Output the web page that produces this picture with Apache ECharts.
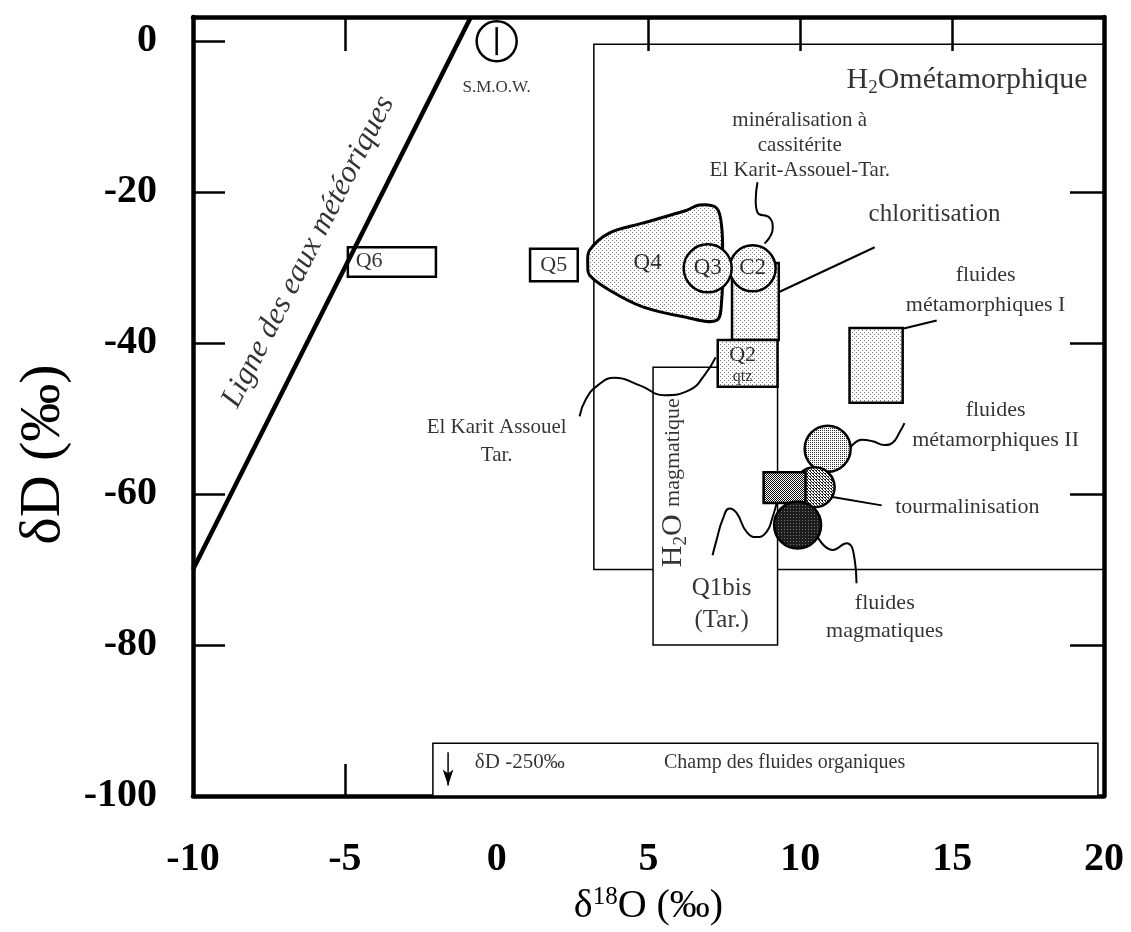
<!doctype html>
<html lang="fr">
<head>
    <meta charset="UTF-8">
    <title>dD - d18O</title>
    <style>
        html, body { margin: 0; padding: 0; background: #fff; }
        #main { width: 1131px; height: 932px; }
    </style>
    <script src="https://cdn.jsdelivr.net/npm/echarts@6.0.0/dist/echarts.min.js"></script>
</head>
<body>
<div id="main"></div>
<script>
    // axes
    var xTickLabels = [-10, -5, 0, 5, 10, 15, 20];
    var yTickLabels = [0, -20, -40, -60, -80, -100];
    var xTopTicks = [-5, 5, 10, 15];
    var xBottomTicks = [-5, 0, 5, 10, 15];
    var yLeftTicks = [0, -20, -40, -60, -80];
    var yRightTicks = [-20, -40, -60, -80];

    // meteoric water line and SMOW
    var meteoricLine = [[-10, -70], [-0.85, 3.2]];
    var smow = [0, 0];

    // fields and boxes: [x1, y1, x2, y2]
    var metamorphicField = [3.2, -0.4, 20, -70];
    var magmaticField = [5.15, -43.2, 9.25, -80];
    var organicField = [-2.1, -93, 19.8, -100];
    var q6Box = [-4.9, -27.3, -2.0, -31.2];
    var q5Box = [1.1, -27.5, 2.67, -31.8];
    var chloritBox = [7.75, -29.4, 9.29, -39.6];
    var q2Box = [7.28, -39.6, 9.25, -45.8];
    var metIBox = [11.62, -38.0, 13.37, -47.9];
    var tourmBox = [8.79, -57.1, 10.17, -61.2];

    // Q4 field outline
    var q4Outline = [
        [3.00, -29.7], [3.06, -27.7], [3.72, -25.4], [4.81, -24.1], [6.26, -22.4],
        [6.68, -21.7], [7.24, -22.1], [7.41, -24.6], [7.44, -29.0], [7.41, -34.3],
        [7.24, -37.0], [6.26, -36.6], [4.81, -35.2], [3.72, -33.0], [3.06, -31.0]
    ];

    // round fields (centres)
    var q3 = [6.95, -30.1];
    var c2 = [8.43, -30.1];
    var metII = [10.9, -54.0];
    var tourmDot = [10.47, -59.1];
    var magmaDot = [9.91, -64.1];

    // leader lines
    var cassLeader = [[8.59, -18.7], [8.53, -21.1], [8.59, -22.7], [8.99, -23.4], [9.09, -24.8], [8.82, -26.8]];
    var chloritLeader = [[9.32, -33.2], [12.45, -27.3]];
    var elKaritLeader = [[2.73, -49.7], [2.93, -47.5], [3.33, -45.6], [3.89, -44.6], [4.71, -45.6],
        [5.53, -46.9], [6.36, -46.2], [6.85, -44.2], [7.21, -41.9]];
    var metILeader = [[13.37, -38.1], [14.49, -37.0]];
    var metIILeader = [[11.66, -53.8], [12.02, -52.8], [12.38, -53.0], [12.78, -53.5], [13.04, -53.2],
        [13.27, -51.8], [13.43, -50.6]];
    var tourmLeader = [[11.06, -60.4], [12.68, -61.5]];
    var magmaLeader = [[10.57, -65.7], [11.06, -67.4], [11.52, -66.5], [11.79, -68.7], [11.85, -71.8]];
    var q1bisLeader = [[7.11, -68.1], [7.24, -66.1], [7.44, -63.4], [7.67, -61.9], [7.90, -62.5],
        [8.23, -65.0], [8.56, -65.7], [8.89, -65.0], [9.09, -63.0], [9.22, -61.2]];
    var organicArrow = [[-1.6, -94.2], [-1.6, -98.6]];

    // label anchors
    var smowLabelAt = [0, -6.2];
    var meteoricLabelAt = [-6.2, -27.9];
    var metamorphicLabelAt = [19.46, -5.2];
    var cassLabelAt = [9.98, -13.8];
    var q6LabelAt = [-4.2, -29.2];
    var q5LabelAt = [1.88, -29.7];
    var q4LabelAt = [4.97, -29.4];
    var q3LabelAt = q3;
    var c2LabelAt = c2;
    var q2LabelAt = [8.1, -41.6];
    var qtzLabelAt = [8.1, -44.4];
    var chloritLabelAt = [14.42, -23.0];
    var elKaritLabelAt = [0, -53];
    var metILabelAt = [16.1, -33.0];
    var metIILabelAt = [16.43, -50.9];
    var tourmLabelAt = [15.5, -61.7];
    var magmaLabelAt = [12.78, -76.3];
    var q1bisLabelAt = [7.41, -74.6];
    var magmaticLabelAt = [5.8, -58.5];
    var organicDLabelAt = [0.76, -95.6];
    var organicLabelAt = [9.48, -95.6];

    var serif = "'Liberation Serif', 'DejaVu Serif', serif";

    function dotPattern(bg, fg, size, dots) {
        var c = document.createElement('canvas');
        c.width = size;
        c.height = size;
        var ctx = c.getContext('2d');
        ctx.fillStyle = bg;
        ctx.fillRect(0, 0, size, size);
        ctx.fillStyle = fg;
        dots.forEach(function (d) { ctx.fillRect(d[0], d[1], 1, 1); });
        return {image: c, repeat: 'repeat'};
    }

    var lightDots = dotPattern('#fff', '#777', 4, [[0, 0], [2, 2]]);
    var midDots = dotPattern('#fff', '#333', 2, [[0, 0]]);
    var tourmDots = dotPattern('#fff', '#222', 3, [[0, 0], [1, 1], [2, 2], [0, 2]]);
    var squareDots = dotPattern('#fff', '#111', 2, [[0, 0], [1, 1]]);
    var darkDots = dotPattern('#1c1c1c', '#777', 3, [[1, 1]]);

    function boxSeries(boxes, fill, z, width) {
        return {
            type: 'custom',
            z: z,
            silent: true,
            data: boxes,
            renderItem: function (params, api) {
                var p1 = api.coord([api.value(0), api.value(1)]);
                var p2 = api.coord([api.value(2), api.value(3)]);
                return {
                    type: 'rect',
                    shape: {
                        x: Math.min(p1[0], p2[0]),
                        y: Math.min(p1[1], p2[1]),
                        width: Math.abs(p2[0] - p1[0]),
                        height: Math.abs(p2[1] - p1[1])
                    },
                    style: {fill: fill, stroke: '#000', lineWidth: width}
                };
            }
        };
    }

    function circleSeries(points, radius, fill, z) {
        return {
            type: 'custom',
            z: z,
            silent: true,
            data: points,
            renderItem: function (params, api) {
                var p = api.coord([api.value(0), api.value(1)]);
                return {
                    type: 'circle',
                    shape: {cx: p[0], cy: p[1], r: radius},
                    style: {fill: fill, stroke: '#000', lineWidth: 2.5}
                };
            }
        };
    }

    function leader(points, z, smooth) {
        return {
            type: 'line',
            z: z,
            silent: true,
            data: points,
            smooth: smooth,
            symbol: 'none',
            lineStyle: {color: '#000', width: 2}
        };
    }

    function note(pos, text, style) {
        var label = {formatter: text};
        for (var k in style) { label[k] = style[k]; }
        return {value: pos, label: label};
    }

    var chartDom = document.getElementById('main');
    var myChart = echarts.init(chartDom);

    var frameLine = {onZero: false, lineStyle: {color: '#000', width: 4.5}};

    var option = {
        animation: false,
        backgroundColor: '#fff',
        grid: {left: 193, right: 27, top: 17, bottom: 136, outerBoundsMode: 'none'},
        xAxis: [
            {
                type: 'value', position: 'bottom',
                min: -10, max: 20, interval: 5,
                name: '{d|δ}{s|18}{d|O (‰)}',
                nameLocation: 'middle',
                nameGap: 78,
                nameTextStyle: {
                    rich: {
                        d: {fontFamily: serif, fontSize: 40, color: '#000'},
                        s: {fontFamily: serif, fontSize: 25, color: '#000', padding: [0, 0, 18, 0]}
                    }
                },
                axisLine: frameLine,
                axisTick: {inside: true, length: 32, customValues: xBottomTicks, lineStyle: {color: '#000', width: 2.5}},
                axisLabel: {
                    customValues: xTickLabels,
                    margin: 44,
                    color: '#000', fontFamily: serif, fontWeight: 'bold', fontSize: 40
                },
                splitLine: {show: false}
            },
            {
                type: 'value', position: 'top',
                min: -10, max: 20, interval: 5,
                axisLine: frameLine,
                axisTick: {inside: true, length: 34, customValues: xTopTicks, lineStyle: {color: '#000', width: 2.5}},
                axisLabel: {show: false},
                splitLine: {show: false}
            }
        ],
        yAxis: [
            {
                type: 'value', position: 'left',
                min: -100, max: 3.2, interval: 20,
                name: 'δD (‰)',
                nameLocation: 'middle',
                nameGap: 120,
                nameTextStyle: {fontFamily: serif, fontSize: 58, color: '#000', padding: [0, 96, 0, 0]},
                axisLine: frameLine,
                axisTick: {inside: true, length: 32, customValues: yLeftTicks, lineStyle: {color: '#000', width: 2.5}},
                axisLabel: {
                    customValues: yTickLabels,
                    margin: 36,
                    color: '#000', fontFamily: serif, fontWeight: 'bold', fontSize: 40
                },
                splitLine: {show: false}
            },
            {
                type: 'value', position: 'right',
                min: -100, max: 3.2, interval: 20,
                axisLine: frameLine,
                axisTick: {inside: true, length: 34, customValues: yRightTicks, lineStyle: {color: '#000', width: 2.5}},
                axisLabel: {show: false},
                splitLine: {show: false}
            }
        ],
        series: [
            boxSeries([metamorphicField], 'none', 1, 1.5),
            boxSeries([magmaticField, organicField], '#fff', 2, 1.5),
            boxSeries([q6Box, q5Box], '#fff', 2, 2.5),
            boxSeries([chloritBox, q2Box, metIBox], lightDots, 3, 2.5),
            {
                type: 'custom',
                z: 4,
                silent: true,
                data: [q4LabelAt],
                renderItem: function (params, api) {
                    var pts = q4Outline.map(function (p) { return api.coord(p); });
                    return {
                        type: 'polygon',
                        shape: {points: pts, smooth: 0.35},
                        style: {fill: lightDots, stroke: '#000', lineWidth: 3}
                    };
                }
            },
            circleSeries([c2], 23, lightDots, 5),
            circleSeries([q3], 24, lightDots, 6),
            circleSeries([metII], 23, midDots, 5),
            circleSeries([tourmDot], 20, tourmDots, 6),
            boxSeries([tourmBox], squareDots, 7, 2.5),
            circleSeries([magmaDot], 23.5, darkDots, 8),
            {
                type: 'line',
                z: 9,
                silent: true,
                data: meteoricLine,
                symbol: 'none',
                lineStyle: {color: '#000', width: 4.5}
            },
            circleSeries([smow], 20, '#fff', 9),
            {
                type: 'custom',
                z: 10,
                silent: true,
                data: [smow],
                renderItem: function (params, api) {
                    var p = api.coord([api.value(0), api.value(1)]);
                    return {
                        type: 'line',
                        shape: {x1: p[0], y1: p[1] - 14, x2: p[0], y2: p[1] + 14},
                        style: {stroke: '#000', lineWidth: 2.5}
                    };
                }
            },
            leader(cassLeader, 10, 0.5),
            leader(chloritLeader, 10, false),
            leader(elKaritLeader, 10, 0.5),
            leader(metILeader, 10, false),
            leader(metIILeader, 10, 0.5),
            leader(tourmLeader, 10, false),
            leader(magmaLeader, 10, 0.5),
            leader(q1bisLeader, 10, 0.5),
            {
                type: 'line',
                z: 10,
                silent: true,
                data: [
                    {value: organicArrow[0], symbol: 'none'},
                    {value: organicArrow[1], symbol: 'arrow', symbolSize: [8, 16], symbolRotate: 180}
                ],
                showSymbol: true,
                itemStyle: {color: '#000'},
                lineStyle: {color: '#000', width: 1.5}
            },
            {
                type: 'scatter',
                z: 20,
                silent: true,
                symbol: 'circle',
                symbolSize: 1,
                itemStyle: {color: 'rgba(0,0,0,0)'},
                label: {
                    show: true,
                    position: 'inside',
                    color: '#000',
                    fontFamily: serif,
                    fontSize: 22
                },
                data: [
                    note(smowLabelAt, 'S.M.O.W.', {fontSize: 17}),
                    note(meteoricLabelAt, 'Ligne des eaux météoriques', {fontSize: 31, fontStyle: 'italic', rotate: 63}),
                    note(metamorphicLabelAt, '{a|H}{s|2}{a|Ométamorphique}', {
                        align: 'right',
                        rich: {
                            a: {fontFamily: serif, fontSize: 30, color: '#000'},
                            s: {fontFamily: serif, fontSize: 19, color: '#000', padding: [16, 0, 0, 0]}
                        }
                    }),
                    note(cassLabelAt, 'minéralisation à\ncassitérite\nEl Karit-Assouel-Tar.', {fontSize: 21, lineHeight: 25}),
                    note(q6LabelAt, 'Q6', {fontSize: 22}),
                    note(q5LabelAt, 'Q5', {fontSize: 22}),
                    note(q4LabelAt, 'Q4', {fontSize: 23}),
                    note(q3LabelAt, 'Q3', {fontSize: 23}),
                    note(c2LabelAt, 'C2', {fontSize: 23}),
                    note(q2LabelAt, 'Q2', {fontSize: 22}),
                    note(qtzLabelAt, 'qtz', {fontSize: 16}),
                    note(chloritLabelAt, 'chloritisation', {fontSize: 25}),
                    note(elKaritLabelAt, 'El Karit Assouel\nTar.', {fontSize: 21, lineHeight: 28}),
                    note(metILabelAt, 'fluides\nmétamorphiques I', {fontSize: 22, lineHeight: 30}),
                    note(metIILabelAt, 'fluides\nmétamorphiques II', {fontSize: 22, lineHeight: 30}),
                    note(tourmLabelAt, 'tourmalinisation', {fontSize: 22}),
                    note(magmaLabelAt, 'fluides\nmagmatiques', {fontSize: 22, lineHeight: 28}),
                    note(q1bisLabelAt, 'Q1bis\n(Tar.)', {fontSize: 25, lineHeight: 32}),
                    note(magmaticLabelAt, '{a|H}{s|2}{a|O }{m|magmatique}', {
                        rotate: 90,
                        rich: {
                            a: {fontFamily: serif, fontSize: 30, color: '#000'},
                            s: {fontFamily: serif, fontSize: 19, color: '#000', padding: [16, 0, 0, 0]},
                            m: {fontFamily: serif, fontSize: 22, color: '#000'}
                        }
                    }),
                    note(organicDLabelAt, 'δD -250‰', {fontSize: 21}),
                    note(organicLabelAt, 'Champ des fluides organiques', {fontSize: 20})
                ]
            }
        ]
    };

    myChart.setOption(option);
</script>
</body>
</html>
